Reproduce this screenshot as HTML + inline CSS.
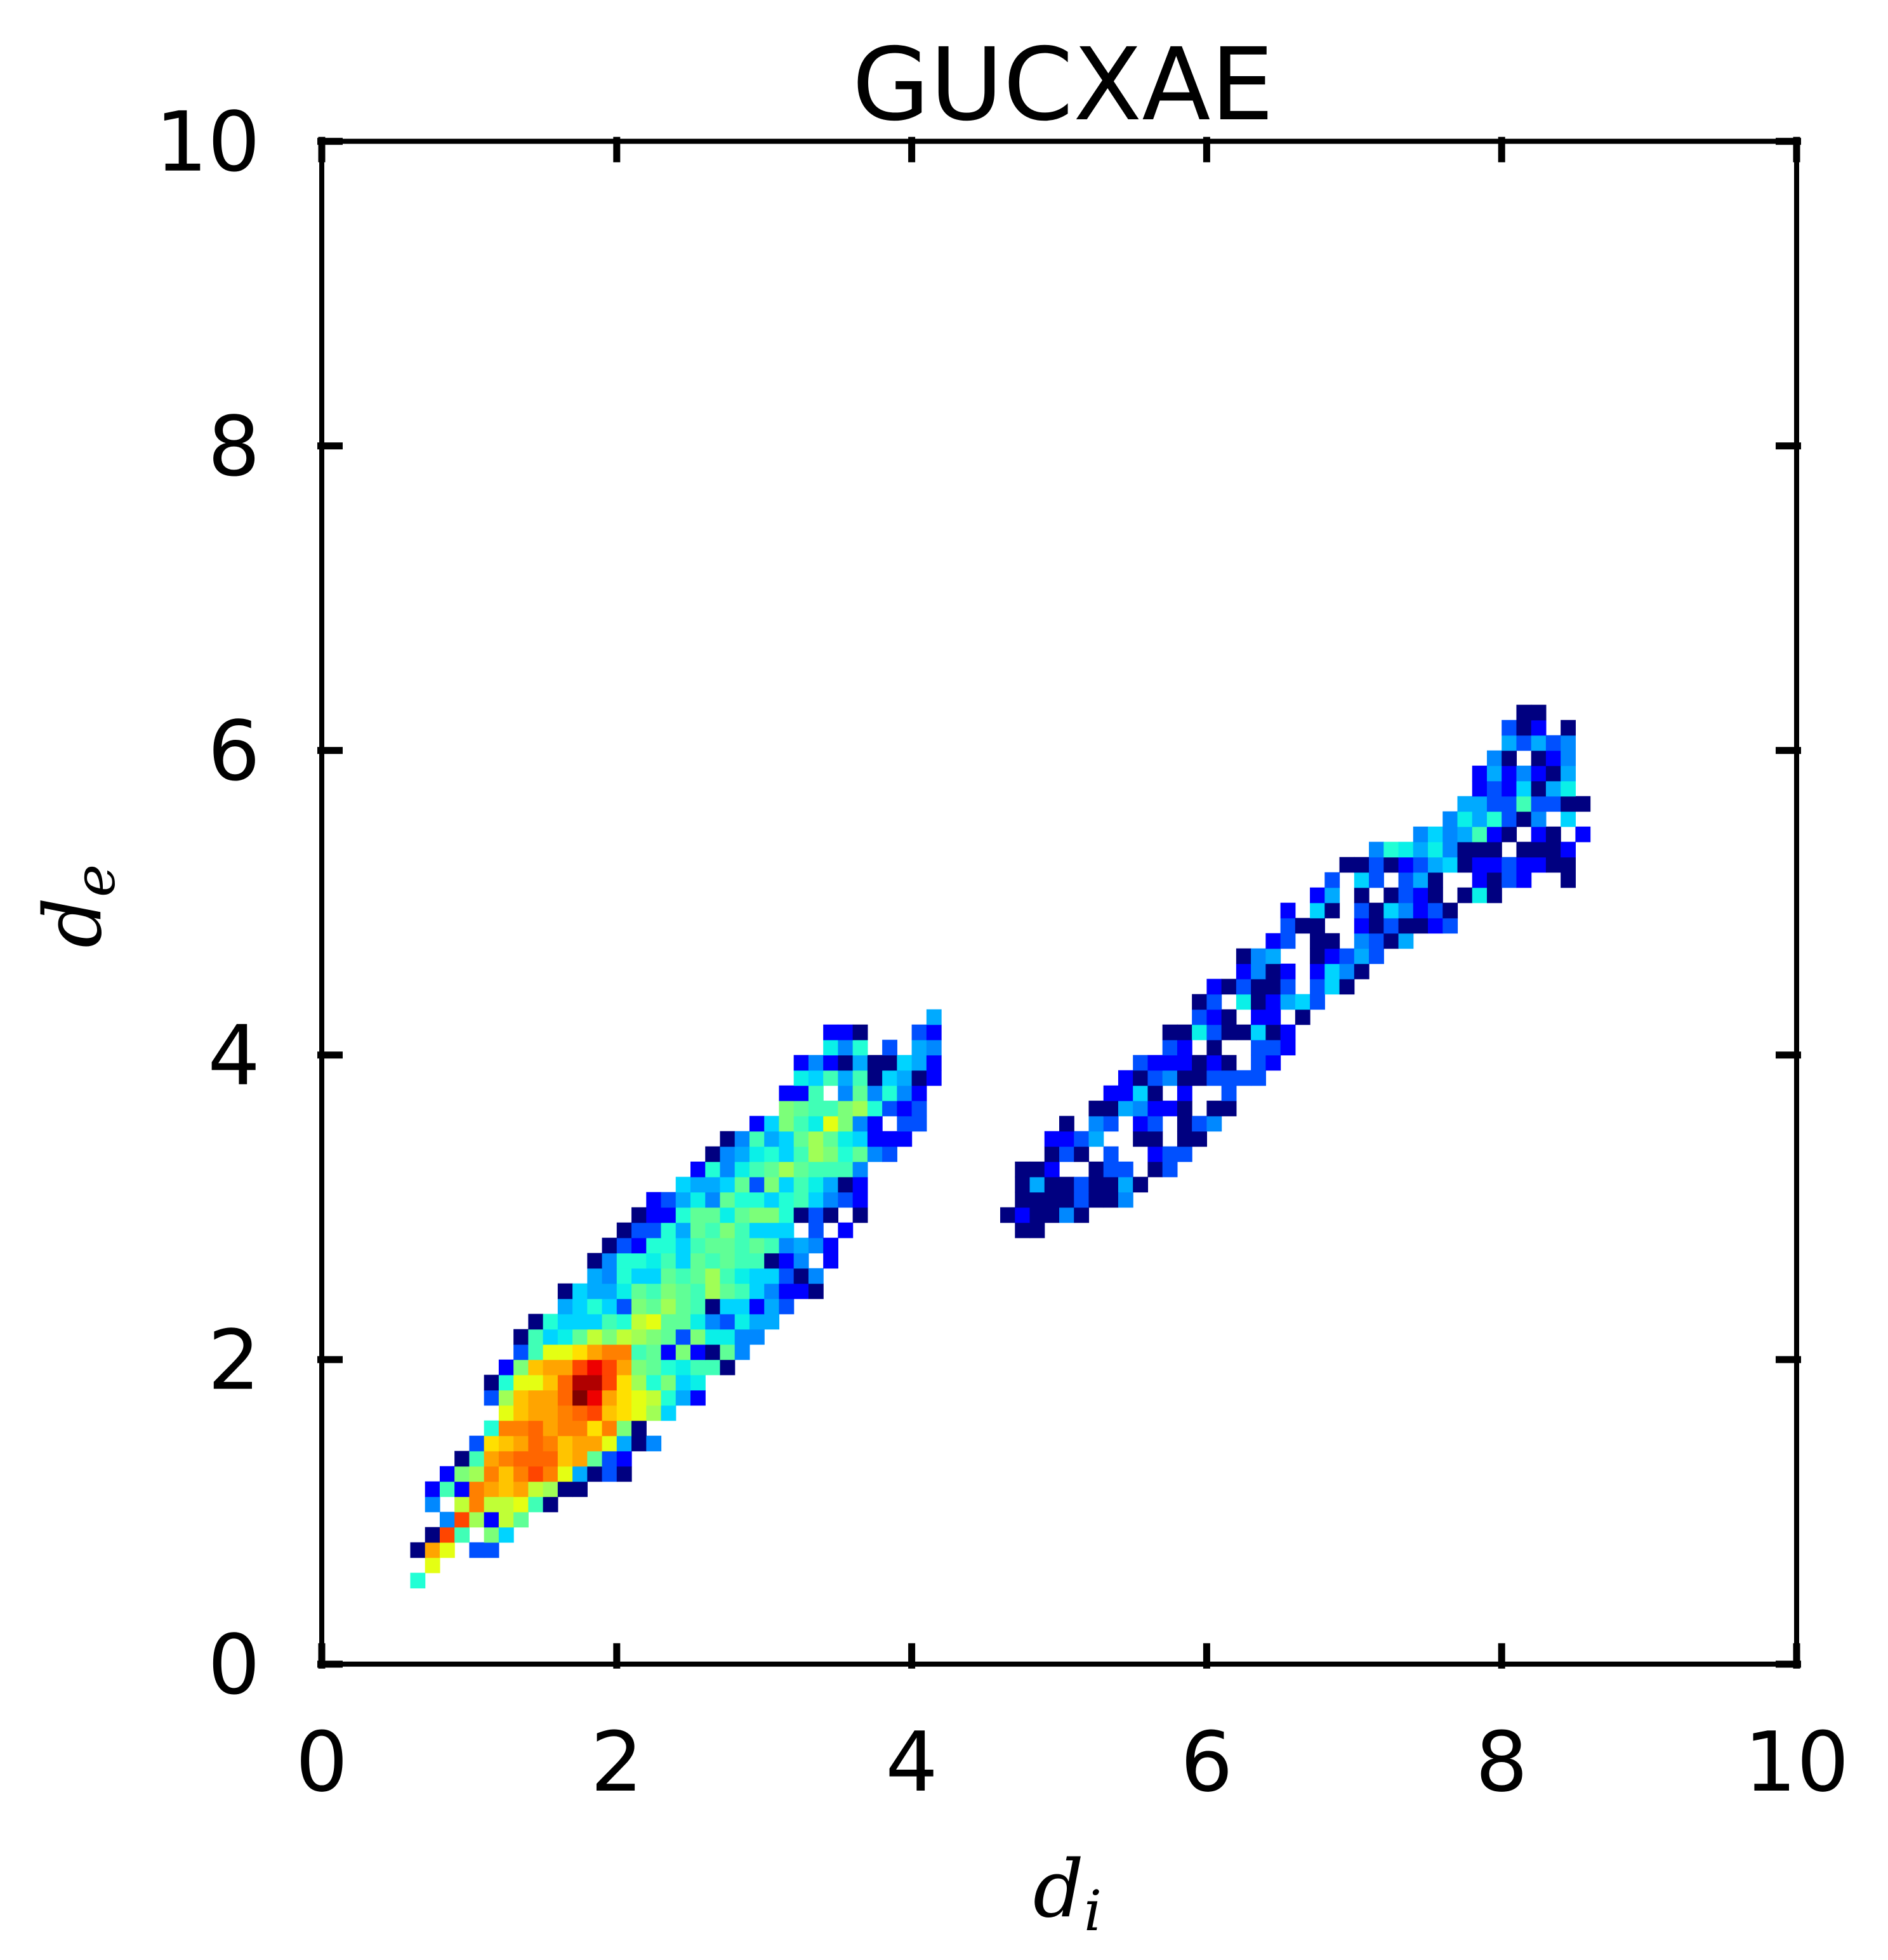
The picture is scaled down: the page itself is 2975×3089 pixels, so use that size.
<!DOCTYPE html>
<html><head><meta charset="utf-8"><style>
html,body{margin:0;padding:0;background:#fff;}
svg{display:block;}
text{font-family:"DejaVu Sans","Liberation Sans",sans-serif;fill:#000;}
</style></head>
<body>
<svg id="chart" width="2975" height="3089" viewBox="0 0 2975 3089" xmlns="http://www.w3.org/2000/svg">
<rect width="2975" height="3089" fill="#fff"/>
<g id="cells"></g>
<g id="frame"></g>
<g id="ticks"></g>
<text x="1675" y="188" font-size="158" text-anchor="middle">GUCXAE</text>
<text x="1682" y="3020" font-size="125" font-style="italic" text-anchor="middle" style="font-family:'DejaVu Serif','Liberation Serif',serif">d<tspan font-size="88" dy="22">i</tspan></text>
<text transform="translate(158,1428) rotate(-90)" font-size="125" font-style="italic" text-anchor="middle" style="font-family:'DejaVu Serif','Liberation Serif',serif">d<tspan font-size="88" dy="22">e</tspan></text>
</svg>
<script>
// Heatmap data: each entry = row index (d_e bin, 0.1 wide), start column (d_i bin), codes ('.' = empty)
const rowIdx = [5,6,7,8,9,10,11,12,13,14,15,16,17,18,19,20,21,22,23,24,25,26,27,28,29,30,31,32,33,34,35,36,37,38,39,40,41,42,
 28,29,30,31,32,33,34,35,36,37,38,39,40,41,42,43,44,45,46,47,48,49,50,51,52,53,54,55,56,57,58,59,60,61,62];
const startCol = [6,7,6,7,8,7,7,8,9,10,11,12,11,11,12,13,13,14,16,16,18,18,19,20,21,22,24,25,26,27,29,31,31,32,32,34,34,41,
 47,46,47,47,47,49,49,50,52,53,54,55,57,57,59,59,60,62,62,64,65,65,67,68,69,71,74,76,77,78,78,79,80,80,81];
const rowCodes = ["h","n","aqn.cc","ati.kf","dtlbmj","d.mrmmnia","bibrqpqmlaa","bklrprtrneaca","aiqrssspqjcb","copqsrpqqnead",
 "hrrsqrrorka","npqqrstponlf","clpqqswuqonmheb","ahnnpsvvtolhkfg","bkpqqtutqkjhgiia","cinnoqrrijbkbajd","aifgjmkmlkjckggdd",
 "ahfffihmnjjgdcgee","efhfckjljiaffbec","afeegjikjiljifdbba","edhffjijligffcad","adhhgifjijiiabd.b","acbhhfijjijidedb",
 "acchejikifff.c.b","abbhjjgjkkhaca.a","bcegdjhhfhifdcb","feefjckfigeab","bhdgijljiiid","adeghfilkhjdc","adiefjljgfbbb",
 "bfkignkdb.cc","kjiiklhcbc","bbi.djdhdb","gfieiafeab","bdbaeaafeb","gdh.c.ed","bba...cb","e",
 "aa","abaada","aaaacaad","aeaacaaea","aab..acc.ac","aca.c..bcc","bbce..aa.aa","a.dc.bc.acd","aaedbba.aa","bbfa.b..c",
 "bacdaacccc","cbbbaba.cb","cb.a..ccb","aagcaafab","cba.bb.a","ac.gabefc","bacaac.cfa","bdab.bfda","ade..abcec","bc.aa.dcae",
 "caa..bacaabc","b.fa.cafdbca","be.a.acba.aga","c.fc.cea..bacb..a","aacabcefabbcbbaa","dhgegdaaa.aaab","dfdeiba.ba.b",
 "dgehcad.f","eecciccaa","bcbfaeg","bebdbae","da.abd","ececd","cab.a","aa"];
const levelCodes = "abcdefghijklmnopqrstuvw";
const levelColors = ["#000080","#0000ff","#0050ff","#0088ff","#00aaff","#00d4ff","#0af0e8","#22ffd5","#40ffb6","#60ff96","#7cff79","#a0ff56","#c0ff36","#e4ff13","#ffe000","#ffc400","#ffa400","#ff8000","#ff6600","#ff4500","#ee0000","#b00000","#800000"];
const xTicks = [0,2,4,6,8,10];
const yTicks = [0,2,4,6,8,10];
const xTickLabels = ["0","2","4","6","8","10"];
const yTickLabels = ["0","2","4","6","8","10"];

const NS="http://www.w3.org/2000/svg";
const X0=507, X1=2831, Y0=2622.7, Y1=222.7, binW=0.1;
function sx(v){return X0+(X1-X0)*v/10;}
function sy(v){return Y0-(Y0-Y1)*v/10;}

const cells=document.getElementById('cells');
for(let r=0;r<rowIdx.length;r++){
  const s=rowCodes[r];
  for(let k=0;k<s.length;k++){
    const li=levelCodes.indexOf(s[k]);
    if(li<0) continue;
    const col=startCol[r]+k;
    const x=sx(col*binW), x2=sx((col+1)*binW), y=sy((rowIdx[r]+1)*binW), y2=sy(rowIdx[r]*binW);
    const el=document.createElementNS(NS,'rect');
    el.setAttribute('x',x.toFixed(2));el.setAttribute('y',y.toFixed(2));
    el.setAttribute('width',(x2-x+0.6).toFixed(2));el.setAttribute('height',(y2-y+0.6).toFixed(2));
    el.setAttribute('fill',levelColors[li]);
    
    
    cells.appendChild(el);
  }
}
const frame=document.getElementById('frame');
const fr=document.createElementNS(NS,'rect');
fr.setAttribute('x',X0);fr.setAttribute('y',Y1);fr.setAttribute('width',X1-X0);fr.setAttribute('height',Y0-Y1);
fr.setAttribute('fill','none');fr.setAttribute('stroke','#000');fr.setAttribute('stroke-width','8');


frame.appendChild(fr);

const ticks=document.getElementById('ticks');
function line(x1,y1,x2,y2,name){
  const l=document.createElementNS(NS,'line');
  l.setAttribute('x1',x1);l.setAttribute('y1',y1);l.setAttribute('x2',x2);l.setAttribute('y2',y2);
  l.setAttribute('stroke','#000');l.setAttribute('stroke-width','11');
  
  
  ticks.appendChild(l);
}
function label(x,y,t,anchor,name){
  const e=document.createElementNS(NS,'text');
  e.setAttribute('x',x);e.setAttribute('y',y);e.setAttribute('font-size','130');e.setAttribute('text-anchor',anchor);
  e.textContent=t;
  
  
  ticks.appendChild(e);
}
xTicks.forEach((v,i)=>{
  const x=sx(v);
  line(x,Y0+7,x,Y0-33,'x-tick');
  line(x,Y1-7,x,Y1+33,'x-tick-top');
  label(x,2822,xTickLabels[i],'middle','x-tick-label');
});
yTicks.forEach((v,i)=>{
  const y=sy(v);
  line(X0-7,y,X0+33,y,'y-tick');
  line(X1+7,y,X1-33,y,'y-tick-right');
  label(410,y+46,yTickLabels[i],'end','y-tick-label');
});
</script>
</body></html>
